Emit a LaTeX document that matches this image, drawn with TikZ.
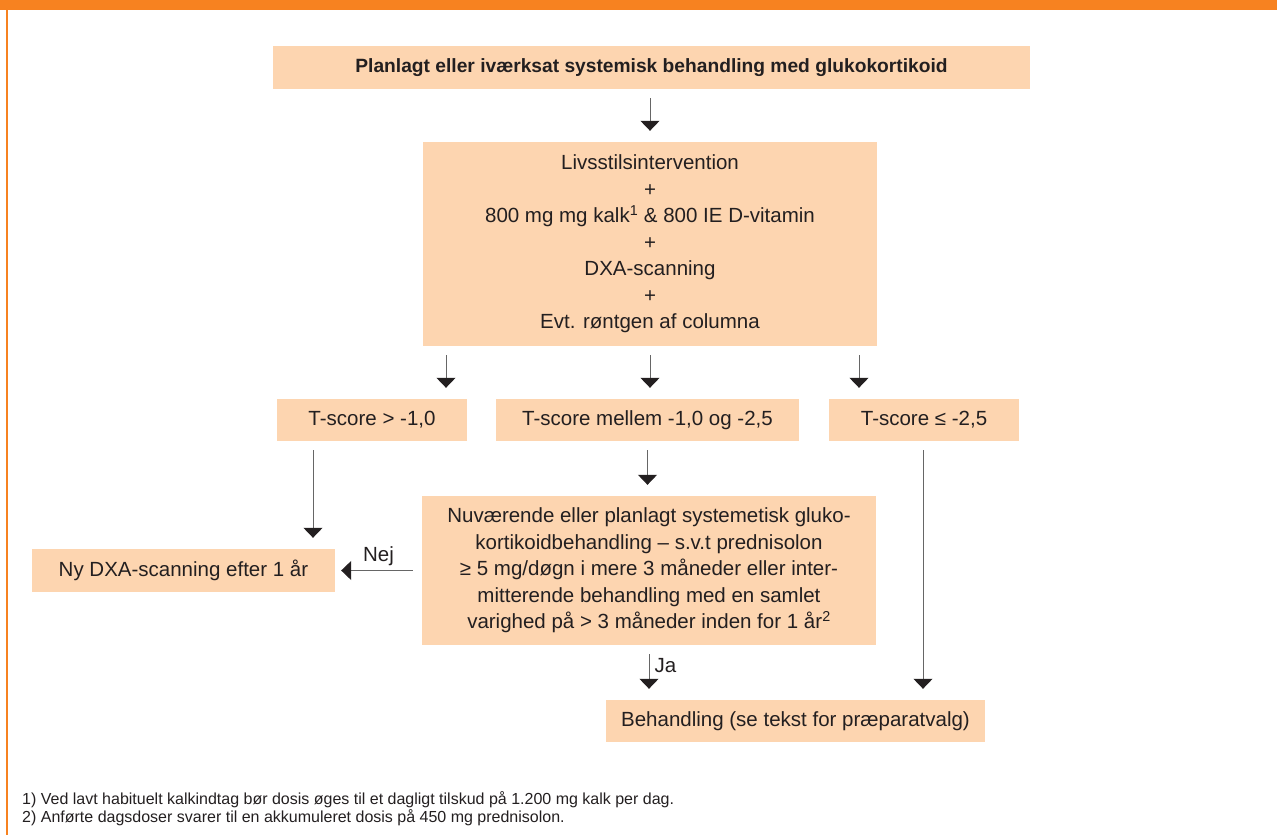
\documentclass[tikz,border=0pt]{standalone}
\usepackage{fontspec}
\setmainfont{Liberation Sans}
\usetikzlibrary{arrows.meta}

\definecolor{boxfill}{RGB}{253,213,176}
\definecolor{frameorange}{RGB}{247,130,32}
\definecolor{inkgray}{RGB}{35,31,32}

\begin{document}
\begin{tikzpicture}[x=1pt, y=-1pt,
  every node/.style={text=inkgray, font=\fontsize{20.5}{26.5}\selectfont},
  box/.style={fill=boxfill, inner sep=0pt, align=center},
  arr/.style={draw=black!60, line width=1pt, shorten <=9pt, shorten >=11pt,
    -{Triangle[width=19pt,length=10pt,color=inkgray]}},
  note/.style={anchor=west, inner sep=0pt, font=\fontsize{16}{18}\selectfont}]
  \useasboundingbox (0,0) rectangle (1277,835);
  % orange frame
  \fill[frameorange] (0,0) rectangle (1277,10);
  \draw[frameorange, line width=1.6pt] (6.8,10) -- (6.8,835);

  \node[box, minimum width=757pt, minimum height=43pt,
    font=\bfseries\fontsize{19.2}{24}\selectfont] (start) at (651.5,67.5)
    {Planlagt eller iværksat systemisk behandling med glukokortikoid};
  \node[box, minimum width=454pt, minimum height=204pt] (basis) at (650,244)
    {Livsstilsintervention\\+\\800 mg mg kalk\textsuperscript{1} \& 800 IE D-vitamin\\+\\DXA-scanning\\+\\Evt. røntgen af columna};

  \node[box, minimum width=190pt, minimum height=42pt] (tA) at (372,420) {T-score > -1,0};
  \node[box, minimum width=303pt, minimum height=42pt] (tB) at (647.5,420) {T-score mellem -1,0 og -2,5};
  \node[box, minimum width=190pt, minimum height=42pt] (tC) at (924,420) {T-score ≤ -2,5};

  \node[box, minimum width=454pt, minimum height=149pt] (gluko) at (649,570.5)
    {Nuværende eller planlagt systemetisk gluko-\\kortikoidbehandling – s.v.t prednisolon\\≥ 5 mg/døgn i mere 3 måneder eller inter-\\mitterende behandling med en samlet\\varighed på > 3 måneder inden for 1 år\textsuperscript{2}};
  \node[box, minimum width=303pt, minimum height=43pt] (nyDXA) at (183.5,570.5) {Ny DXA-scanning efter 1 år};
  \node[box, minimum width=379pt, minimum height=42pt] (behandl) at (795.5,721) {Behandling (se tekst for præparatvalg)};

  % arrows
  \coordinate (pA) at (446,0);
  \coordinate (pC) at (859,0);
  \coordinate (pL) at (313,0);
  \coordinate (pR) at (923,0);
  \draw[arr] (start.south -| basis.north) -- (basis.north);
  \draw[arr] (basis.south -| pA) -- (tA.north -| pA);
  \draw[arr] (basis.south) -- (basis.south |- tB.north);
  \draw[arr] (basis.south -| pC) -- (tC.north -| pC);
  \draw[arr] (tB.south) -- (tB.south |- gluko.north);
  \draw[arr] (tA.south -| pL) -- (nyDXA.north -| pL);
  \draw[arr] (tC.south -| pR) -- (behandl.north -| pR);
  \draw[arr] (gluko.south) -- (gluko.south |- behandl.north)
    node[pos=0.38, right, inner sep=5pt] {Ja};
  \draw[arr, shorten >=6pt] (gluko.west |- nyDXA.east) -- (nyDXA.east)
    node[midway, above, inner sep=4pt] {Nej};

  \node[note] (fn1) at (22,800) {1) Ved lavt habituelt kalkindtag bør dosis øges til et dagligt tilskud på 1.200 mg kalk per dag.};
  \node[note] (fn2) at (22,818) {2) Anførte dagsdoser svarer til en akkumuleret dosis på 450 mg prednisolon.};
\end{tikzpicture}
\end{document}
